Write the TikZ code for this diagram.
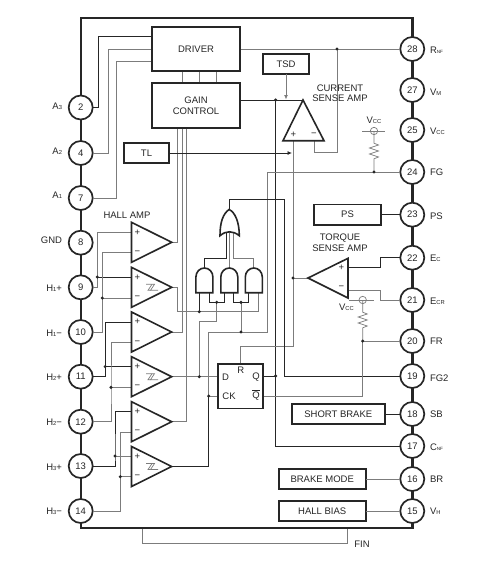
\documentclass[tikz,border=0pt]{standalone}
\usepackage{fontspec}
\setmainfont{Liberation Sans}
\usetikzlibrary{arrows.meta}
\definecolor{ink}{HTML}{262626}
\definecolor{wireg}{HTML}{7C7C7C}
\newcommand{\sbs}[1]{{\fontsize{5.8}{6}\selectfont #1}}
\newcommand{\sbt}[1]{{\fontsize{4.6}{5}\selectfont #1}}
\tikzset{
  txt/.style={font=\fontsize{9.5}{10.5}\selectfont,text=ink,inner sep=0pt,outer sep=0pt,align=center},
  boxx/.style={draw=ink,line width=1.7pt,fill=white,inner sep=0pt,outer sep=0pt,font=\fontsize{9.5}{11}\selectfont,text=ink,align=center},
  pin/.style={circle,draw=ink,line width=1.7pt,fill=white,minimum size=24pt,inner sep=0pt,outer sep=0pt,font=\fontsize{9.5}{10}\selectfont,text=ink},
  gw/.style={draw=wireg,line width=0.9pt},
  kw/.style={draw=ink,line width=0.8pt},
  tri/.style={draw=ink,line width=1.6pt,fill=white,line join=miter},
  thinw/.style={draw=wireg,line width=0.7pt},
}
\newcommand{\hamp}[2]{%
  \draw[tri] (131.5,#2-20) -- (171.7,#2) -- (131.5,#2+20) -- cycle;
  \coordinate (#1p) at (131.5,#2-10);
  \coordinate (#1m) at (131.5,#2+10.5);
  \coordinate (#1o) at (171.7,#2);
  \node[txt] (#1ps) at (137.3,#2-10) {+};
  \node[txt] (#1ms) at (137.3,#2+10.5) {−};
}
\newcommand{\hyst}[1]{%
  \draw[thinw] (146,#1-3) -- (154.5,#1-3) -- (150.5,#1+3) -- (158,#1+3);
  \draw[thinw] (152,#1-3) -- (148,#1+3) -- (150.5,#1+3);
}
\newcommand{\andg}[1]{%
  \draw[tri] (#1-8.5,292.7) -- (#1-8.5,277) .. controls (#1-8.5,272) and (#1-4.7,268) .. (#1,268)
     .. controls (#1+4.7,268) and (#1+8.5,272) .. (#1+8.5,277) -- (#1+8.5,292.7) -- cycle;
}
\newcommand{\zigz}{-- ++(0,8.5) -- ++(4.5,1.8) -- ++(-9,3) -- ++(9,3) -- ++(-9,3) -- ++(9,3) -- ++(-4.5,1.8)}
\begin{document}
\begin{tikzpicture}[x=1pt,y=-1pt]
\useasboundingbox (0,0) rectangle (497,576);
\fill[white] (0,0) rectangle (497,576);
% FIN loop
\coordinate (fina) at (142.7,528); \coordinate (finb) at (347.7,543.7); \coordinate (finc) at (347.7,528);
\draw[thinw] (fina) |- (finb) -- (finc);
% frame
\draw[draw=ink,line width=2.2pt] (81,18) rectangle (412.5,528);
% pins
\foreach \n/\y in {2/107.5,4/153,7/198,8/242.7,9/287.3,10/332,11/376.7,12/421.7,13/466,14/511}
  \node[pin] (p\n) at (80.7,\y) {\n};
\foreach \n/\y in {28/49,27/90,25/130,24/172,23/214.7,22/257.7,21/300,20/341,19/376,18/414,17/446,16/479,15/511}
  \node[pin] (p\n) at (412.3,\y) {\n};
% named points
\coordinate (da3) at (152,36); \coordinate (da2) at (152,49.5); \coordinate (da1) at (152,61);
\coordinate (ta3) at (98.5,36); \coordinate (ta2) at (108,49.5); \coordinate (ta1) at (116.5,61);
\coordinate (j28) at (337,49); \coordinate (csT) at (314,152.7);
\coordinate (gr) at (240,100); \coordinate (apex) at (303,100); \coordinate (j275) at (275.6,100);
\coordinate (jQ) at (275.6,376); \coordinate (tsdin) at (286,99.5);
\coordinate (cam) at (314,140.7); \coordinate (cap) at (293,140.7);
\coordinate (tlin) at (292,153); \coordinate (jT) at (293,278); \coordinate (rturn) at (240.8,346.7);
\coordinate (tip) at (308,278); \coordinate (tp) at (348,267.7); \coordinate (tm) at (348,290);
\coordinate (t22) at (380.7,267.7); \coordinate (t21) at (380.7,290);
\coordinate (fga) at (267,332); \coordinate (fgb) at (208.7,332); \coordinate (j24) at (374,172);
\coordinate (jCK) at (208.7,396); \coordinate (jD) at (199.3,376.7);
\coordinate (ffD) at (218.3,376.7); \coordinate (ffCK) at (218.3,396);
\coordinate (ffQ) at (263.3,376); \coordinate (ffQb) at (263.3,396);
\coordinate (n1) at (199.3,321.3); \coordinate (n2) at (216.7,321.3);
\coordinate (j1) at (199.3,311.7); \coordinate (j2) at (216.7,302.3); \coordinate (j3) at (241,302.3); \coordinate (j4) at (241,332);
\coordinate (c1) at (177.7,311.7); \coordinate (c3) at (258.3,311.7);
\coordinate (a1l) at (199.3,292.7); \coordinate (a1r) at (209.3,292.7);
\coordinate (a2l) at (224.3,292.7); \coordinate (a2r) at (233.3,292.7);
\coordinate (a3l) at (248.3,292.7); \coordinate (a3r) at (258.3,292.7);
\coordinate (g1) at (177.7,128); \coordinate (g2) at (182,128); \coordinate (g3) at (186.3,128);
\coordinate (t1) at (204.4,268); \coordinate (t2) at (229.3,268); \coordinate (t3) at (253.8,268);
\coordinate (ob1) at (226.5,258.7); \coordinate (ob3) at (233.5,258.7);
\coordinate (oi1) at (226.5,232); \coordinate (oi2) at (229.3,231); \coordinate (oi3) at (233.5,232);
\coordinate (oo) at (229,209.5); \coordinate (oot) at (284.7,199.3);
\coordinate (j20) at (362.7,341); \coordinate (qt) at (362.7,396);
\coordinate (v1) at (374,131); \coordinate (v2) at (362.7,300);
\coordinate (v1l) at (362,131); \coordinate (v1r) at (385,131);
\coordinate (v2l) at (349,300); \coordinate (v2r) at (374,300);
\coordinate (j9) at (97.3,277); \coordinate (j10) at (102.3,298);
\coordinate (j11) at (105.2,366.5); \coordinate (j12) at (111,387.3);
\coordinate (j13) at (115,456); \coordinate (j14) at (120.3,476.7);
% wires behind
\draw[kw] (p2.east) -| (ta3) -- (da3);
\draw[gw] (p4.east) -| (ta2) -- (da2);
\draw[gw] (p7.east) -| (ta1) -- (da1);
\foreach \x in {182,199,216} \draw[gw] (\x,71) -- (\x,83);
\draw[gw] (240,49) -- (p28.west);
\draw[gw] (j28) |- (csT) -- (cam);
\draw[kw] (gr) -- (apex);
\draw[kw,line width=1pt] (j275) -- (jQ) |- (p17.west);
\draw[kw] (ffQ) -- (jQ);
\draw[gw] (cap) |- (rturn) -- (240.8,364);
\draw[gw] (tip) -- (jT);
\draw[kw] (tp) -- (t22) |- (p22.west);
\draw[gw] (tm) -- (t21) |- (p21.west);
\draw[gw] (p24.west) -| (fga) -- (fgb) -- (jCK);
\draw[kw] (jCK) |- (171.7,466.5);
\draw[gw] (jCK) -- (ffCK);
\draw[gw] (171.7,376.7) -- (ffD);
\draw[gw] (jD) -- (n1) -- (n2) -- (j2);
\draw[kw] (a1r) |- (j2); \draw[kw] (a2l) |- (j2);
\draw[kw] (a2r) |- (j3); \draw[kw] (a3l) |- (j3);
\draw[gw] (j3) -- (j4);
\draw[kw] (a1l) -- (j1);
\draw[gw] (171.7,287.3) -| (c1) -- (c3) -- (a3r);
\draw[gw] (171.7,242.3) -| (g1);
\draw[gw] (171.7,332) -| (g2);
\draw[gw] (171.7,421.7) -| (g3);
\draw[kw] (t1) |- (ob1) -- (oi1);
\draw[gw] (t3) |- (ob3) -- (oi3);
\draw[gw,line width=1.3pt] (t2) -- (oi2);
\draw[kw] (oo) |- (oot) |- (p19.west);
\draw[gw] (p20.west) -- (j20) -- (qt) -- (ffQb);
% left amplifier inputs
\draw[gw] (p9.east) -| (j9) |- (131.5,232.3);
\draw[kw] (j9) -- (131.5,277);
\draw[gw] (p10.east) -| (j10) |- (131.5,252.8);
\draw[gw] (j10) -- (131.5,298);
\draw[kw] (p11.east) -| (j11) |- (131.5,322);
\draw[kw] (j11) -- (131.5,366.5);
\draw[gw] (p12.east) -| (j12) |- (131.5,342.5);
\draw[gw] (j12) -- (131.5,387.3);
\draw[kw] (p13.east) -| (j13) |- (131.5,411.7);
\draw[gw] (j13) -- (131.5,456);
\draw[gw] (p14.east) -| (j14) |- (131.5,432.2);
\draw[gw] (j14) -- (131.5,476.7);
% boxes
\node[boxx,minimum width=88pt,minimum height=44pt] (driver) at (196,49) {DRIVER};
\node[boxx,minimum width=88pt,minimum height=45pt] (gain) at (196,105.5) {GAIN\\CONTROL};
\node[boxx,minimum width=45pt,minimum height=20pt] (tl) at (146.5,153) {TL};
\node[boxx,minimum width=46pt,minimum height=20pt] (tsd) at (286,64) {TSD};
\node[boxx,minimum width=66.5pt,minimum height=20.5pt] (ps) at (347.5,214.7) {PS};
\node[boxx,minimum width=92.7pt,minimum height=20.5pt] (sb) at (338.3,414) {SHORT BRAKE};
\node[boxx,minimum width=87pt,minimum height=20.5pt] (bm) at (322.2,479) {BRAKE MODE};
\node[boxx,minimum width=87pt,minimum height=20.5pt] (hb) at (322.2,511) {HALL BIAS};
\node[boxx,minimum width=45pt,minimum height=44.3pt] (ff) at (240.8,386.2) {};
\draw[kw,-{Latex[length=4.5pt,width=4pt]}] (tl.east) -- (tlin);
\draw[gw,-{Latex[length=4.5pt,width=4pt]}] (tsd.south) -- (tsdin);
\draw[kw] (ps.east) -- (p23.west);
\draw[kw] (sb.east) -- (p18.west);
\draw[gw] (bm.east) -- (p16.west);
\draw[gw] (hb.east) -- (p15.west);
% VCC resistors
\draw[thinw] (v1l) -- (v1r);
\draw[thinw] (v1) circle (3.7pt);
\draw[thinw] (v1) -- ++(0,3.7) \zigz -- (j24);
\draw[thinw] (v2l) -- (v2r);
\draw[thinw] (v2) circle (3.7pt);
\draw[thinw] (v2) -- ++(0,3.7) \zigz -- (j20);
% amplifiers
\hamp{a1}{242.3}
\hamp{a2}{287.3}\hyst{287.3}
\hamp{a3}{332}
\hamp{a4}{376.7}\hyst{376.7}
\hamp{a5}{421.7}
\hamp{a6}{466.5}\hyst{466.5}
\draw[tri] (apex) -- (324,140.7) -- (283,140.7) -- cycle;
\node[txt] (csp) at (293.3,135) {+};
\node[txt] (csm) at (314,135) {−};
\draw[tri] (tip) -- (348,258.3) -- (348,298) -- cycle;
\node[txt] (tsp) at (341.5,268) {+};
\node[txt] (tsm) at (341.5,288) {−};
% logic gates
\andg{204.4}\andg{229.3}\andg{253.8}
\draw[tri] (220,235.7) .. controls (220,222) and (223,214) .. (229,209.5)
   .. controls (235,212) and (239.3,222) .. (239.3,235.7)
   .. controls (233,230.5) and (226,230.5) .. cycle;
% dots
\foreach \c in {j28,j275,jQ,jT,jCK,jD,j1,j2,j3,j4,j9,j10,j11,j12,j13,j14,j24,j20}
  \fill[ink] (\c) circle (1.7pt);
% labels
\node[txt] (lhall) at (127,215) {HALL AMP};
\node[txt] (lcur) at (340,93) {CURRENT\\SENSE AMP};
\node[txt] (ltor) at (340,242.5) {TORQUE\\SENSE AMP};
\node[txt] (lv1) at (374,120) {V\sbs{CC}};
\node[txt] (lv2) at (346.5,307) {V\sbs{CC}};
\node[txt] (ffd) at (225.5,377) {D};
\node[txt] (ffck) at (229,396.3) {CK};
\node[txt] (ffr) at (240.8,370.5) {R};
\node[txt] (ffq) at (256,377) {Q};
\node[txt] (ffqb) at (256,395.3) {$\overline{\hbox{Q}}$};
\node[txt,anchor=east] (lA3) at (62,106) {A\sbs{3}};
\node[txt,anchor=east] (lA2) at (62,151) {A\sbs{2}};
\node[txt,anchor=east] (lA1) at (62,195.5) {A\sbs{1}};
\node[txt,anchor=east] (lGND) at (62,240) {GND};
\node[txt,anchor=east] (lH1p) at (62,288) {H\sbs{1}+};
\node[txt,anchor=east] (lH1m) at (62,333) {H\sbs{1}−};
\node[txt,anchor=east] (lH2p) at (62,377) {H\sbs{2}+};
\node[txt,anchor=east] (lH2m) at (62,422) {H\sbs{2}−};
\node[txt,anchor=east] (lH3p) at (62,467) {H\sbs{3}+};
\node[txt,anchor=east] (lH3m) at (62,511.5) {H\sbs{3}−};
\node[txt,anchor=west] (rNF) at (430,50.5) {R\sbt{NF}};
\node[txt,anchor=west] (rVM) at (430,92) {V\sbs{M}};
\node[txt,anchor=west] (rVC) at (430,131.5) {V\sbs{CC}};
\node[txt,anchor=west] (rFG) at (430,172.5) {FG};
\node[txt,anchor=west] (rPS) at (430,216.5) {PS};
\node[txt,anchor=west] (rEC) at (430,258.5) {E\sbs{C}};
\node[txt,anchor=west] (rECR) at (430,301) {E\sbs{CR}};
\node[txt,anchor=west] (rFR) at (430,341.5) {FR};
\node[txt,anchor=west] (rFG2) at (430,378) {FG2};
\node[txt,anchor=west] (rSB) at (430,414.5) {SB};
\node[txt,anchor=west] (rCNF) at (430,447) {C\sbt{NF}};
\node[txt,anchor=west] (rBR) at (430,479) {BR};
\node[txt,anchor=west] (rVH) at (430,511.5) {V\sbs{H}};
\node[txt] (lfin) at (362,544.5) {FIN};
\end{tikzpicture}
\end{document}
